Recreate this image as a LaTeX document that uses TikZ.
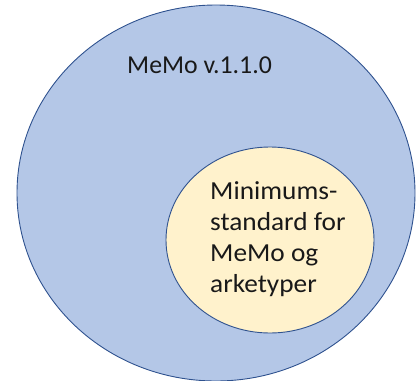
\documentclass[tikz,border=0pt]{standalone}
\usepackage{fontspec}
\setmainfont{Carlito}
\usetikzlibrary{shapes.geometric}
\definecolor{outerfill}{HTML}{B4C7E7}
\definecolor{innerfill}{HTML}{FFF2CC}
\definecolor{edgeblue}{HTML}{2F528F}
\tikzset{
  blob/.style={ellipse, draw=edgeblue, line width=0.9pt, inner sep=0pt},
  lbl/.style={inner sep=0pt, text=black!90}
}
\begin{document}
\begin{tikzpicture}[x=1pt,y=-1pt]
\useasboundingbox (0,0) rectangle (416,381);
\node[blob, fill=outerfill, minimum width=398pt, minimum height=376pt] (outer) at (216,193) {};
\node[blob, fill=innerfill, minimum width=208pt, minimum height=186pt] (inner) at (270,240) {};
\node[lbl, anchor=base west, font=\fontsize{25.8}{31}\selectfont] (title) at (127,73) {MeMo v.1.1.0};
\node[lbl, anchor=north west, align=left, xscale=1.05, font=\fontsize{26}{31.3}\selectfont] (std) at (210,181) {Minimums-\\standard for\\MeMo og\\arketyper};
\end{tikzpicture}
\end{document}
